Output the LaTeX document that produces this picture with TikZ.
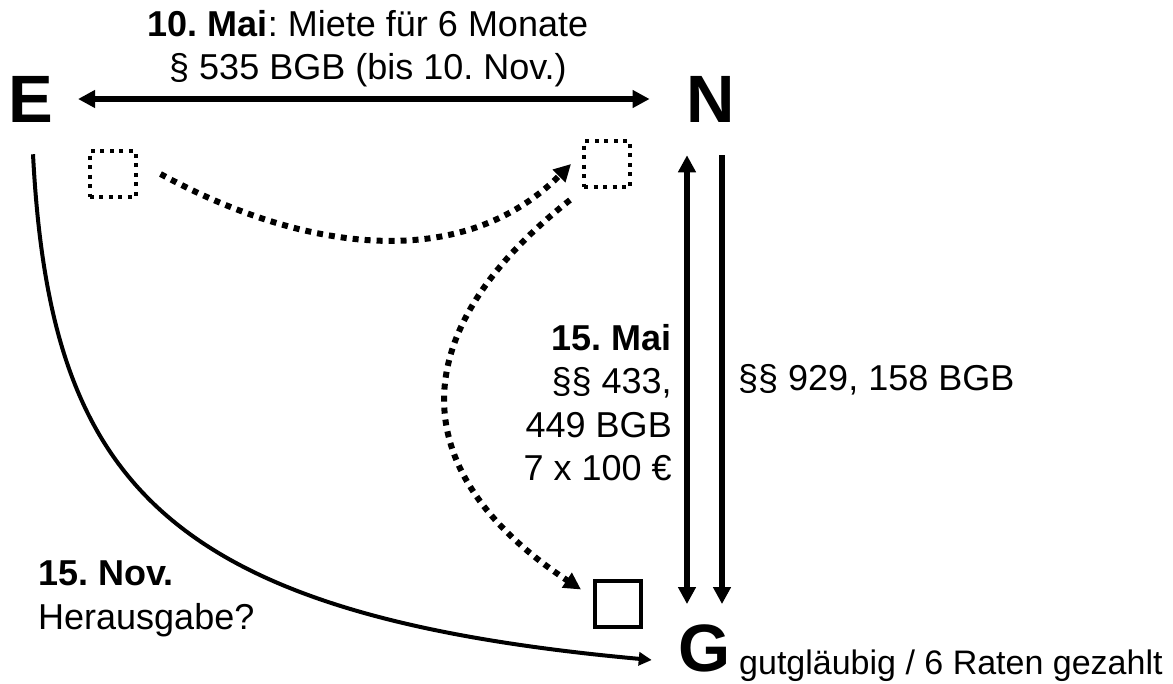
\documentclass[tikz,border=0pt]{standalone}
\usepackage{fontspec}
\setmainfont{Liberation Sans}
\usetikzlibrary{arrows.meta}
\frenchspacing

\begin{document}
\begin{tikzpicture}[
    x=1pt, y=-1pt,
    >={Triangle[length=17pt,width=17pt]},
    party/.style={font=\fontsize{67}{67}\selectfont\bfseries, inner sep=0pt},
    txt/.style={font=\fontsize{36}{43.5}\selectfont, inner sep=0pt},
    thing/.style={draw, minimum size=46pt, inner sep=0pt, line width=4pt},
    dthing/.style={thing, line width=4pt, dash pattern=on 4pt off 5.5pt},
    arrow/.style={->, line width=5.5pt},
    darrow/.style={->, line width=6pt, dash pattern=on 6pt off 6pt},
    claim/.style={-{Triangle[length=13pt,width=13pt]}, line width=4pt},
]
    \useasboundingbox (0,0) rectangle (1173,683);

    % --- Parties ---
    \node[party] (E) at (30.5,99) {E};
    \node[party] (N) at (711,99)  {N};
    \node[party] (G) at (705,648) {G};

    % --- Things ---
    \node[dthing] (sqE) at (112.5,174)  {};
    \node[dthing] (sqN) at (607,164)    {};
    \node[thing]  (sqG) at (618,603.5)  {};

    % Rental E -- N
    \draw[arrow, <->] ([xshift=25pt]E.east) -- ([xshift=-37pt]N.west);
    \node[txt, align=center, anchor=north] (rent) at (368,10)
        {\textbf{10. Mai}: Miete für 6 Monate\\§ 535 BGB (bis 10. Nov.)};

    % Sale N -- G
    \draw[arrow, <->] ([xshift=-24pt,yshift=-33pt]N.south) -- ([xshift=-18pt,yshift=20pt]G.north);
    \draw[arrow] ([xshift=11pt,yshift=-33pt]N.south) -- ([xshift=17pt,yshift=20pt]G.north);
    \node[txt, align=right, anchor=north east] (sale) at (672,324)
        {\textbf{15. Mai}\\§§ 433,\\449 BGB\\7 x 100 €};
    \node[txt, anchor=base west] (owner) at (738,390) {§§ 929, 158 BGB};

    % Possession of the thing
    \draw[darrow] ([xshift=23pt]sqE.east)
        .. controls (300,250) and (460,275) .. ([xshift=-11pt]sqN.west);
    \draw[darrow] ([xshift=-12pt,yshift=-11pt]sqN.south west)
        .. controls (405,330) and (400,470) .. ([xshift=-12pt,yshift=-11pt]sqG.north west);

    % Claim E -- G
    \draw[claim] ([xshift=2.5pt,yshift=-32pt]E.south)
        .. controls (50,480) and (160,615) .. ([xshift=-27pt,yshift=-12pt]G.west);
    \node[txt, align=left, anchor=north west] (claimlbl) at (38,561)
        {\textbf{15. Nov.}\\Herausgabe?};
    \node[txt, font=\fontsize{34}{40}\selectfont, anchor=base west] (faith) at (739,674)
        {gutgläubig / 6 Raten gezahlt};
\end{tikzpicture}
\end{document}
